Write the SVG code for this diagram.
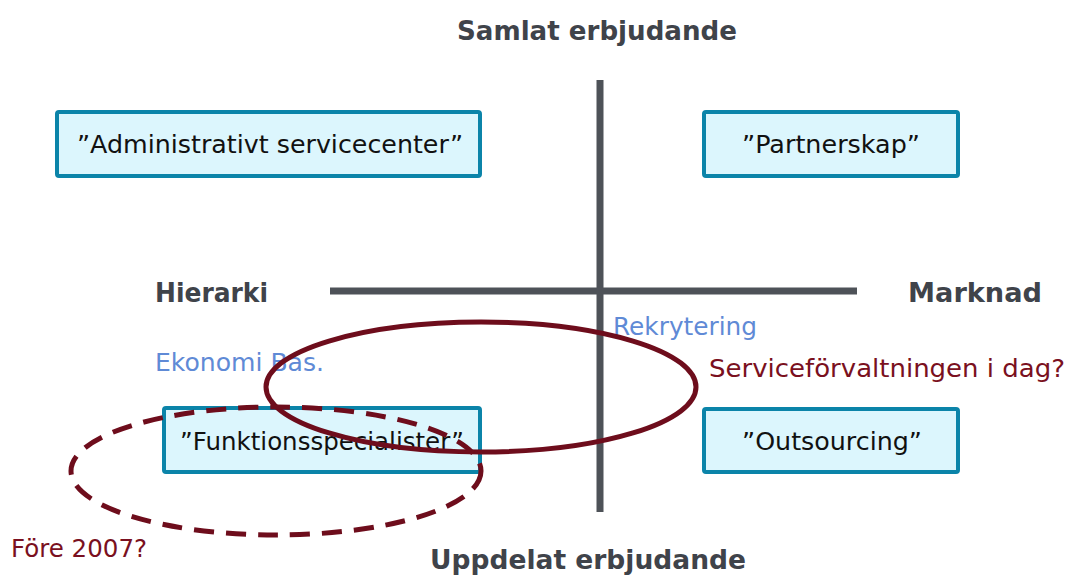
<svg xmlns="http://www.w3.org/2000/svg" width="1070" height="575" viewBox="0 0 1070 575">
  <style>
    .box { fill: #dcf6fd; stroke: #0b84a9; stroke-width: 4; }
    .boxtxt { font-family: "DejaVu Sans", "Liberation Sans", sans-serif; font-size: 25px; fill: #111; text-anchor: start; }
    .axis { stroke: #4e5258; stroke-width: 7; }
    .axlbl { font-family: "DejaVu Sans", "Liberation Sans", sans-serif; font-size: 26px; font-weight: bold; fill: #3f434a; }
    .blue { font-family: "DejaVu Sans", "Liberation Sans", sans-serif; font-size: 24px; fill: #5f8ad6; }
    .maroon { font-family: "DejaVu Sans", "Liberation Sans", sans-serif; font-size: 24px; fill: #7a1020; }
    .ring { fill: none; stroke: #6e0d1c; stroke-width: 5; }
  </style>

  <!-- axes -->
  <g id="axes">
    <line class="axis" x1="600" y1="80" x2="600" y2="512"/>
    <line class="axis" x1="330" y1="291" x2="857" y2="291"/>
  </g>

  <!-- axis labels -->
  <text class="axlbl" x="457" y="40" textLength="280" lengthAdjust="spacingAndGlyphs">Samlat erbjudande</text>
  <text class="axlbl" x="430" y="569" textLength="316" lengthAdjust="spacingAndGlyphs">Uppdelat erbjudande</text>
  <text class="axlbl" x="155" y="302" textLength="113" lengthAdjust="spacingAndGlyphs">Hierarki</text>
  <text class="axlbl" x="908" y="302" textLength="134" lengthAdjust="spacingAndGlyphs">Marknad</text>

  <!-- quadrant nodes -->
  <g id="admin">
    <rect class="box" x="57" y="112" width="423" height="64" rx="2"/>
    <text class="boxtxt" x="77" y="153" textLength="386" lengthAdjust="spacingAndGlyphs">”Administrativt servicecenter”</text>
  </g>
  <g id="partnerskap">
    <rect class="box" x="704" y="112" width="254" height="64" rx="2"/>
    <text class="boxtxt" x="742" y="153" textLength="178" lengthAdjust="spacingAndGlyphs">”Partnerskap”</text>
  </g>
  <g id="funktion">
    <rect class="box" x="164" y="408" width="316" height="64" rx="2"/>
    <text class="boxtxt" x="180" y="450" textLength="284" lengthAdjust="spacingAndGlyphs">”Funktionsspecialister”</text>
  </g>
  <g id="outsourcing">
    <rect class="box" x="704" y="409" width="254" height="63" rx="2"/>
    <text class="boxtxt" x="742" y="450" textLength="180" lengthAdjust="spacingAndGlyphs">”Outsourcing”</text>
  </g>

  <!-- annotations -->
  <text class="blue" x="613" y="335" textLength="144" lengthAdjust="spacingAndGlyphs">Rekrytering</text>
  <text class="blue" x="155" y="371" textLength="169" lengthAdjust="spacingAndGlyphs">Ekonomi Bas.</text>
  <text class="maroon" x="709" y="377" textLength="356" lengthAdjust="spacingAndGlyphs">Serviceförvaltningen i dag?</text>
  <text class="maroon" x="11" y="557" textLength="136" lengthAdjust="spacingAndGlyphs">Före 2007?</text>

  <!-- groupings -->
  <g id="connectors">
    <ellipse class="ring" cx="481" cy="387" rx="215" ry="65"/>
    <ellipse class="ring" cx="276" cy="471" rx="205" ry="64" stroke-dasharray="20 12"/>
  </g>
</svg>
